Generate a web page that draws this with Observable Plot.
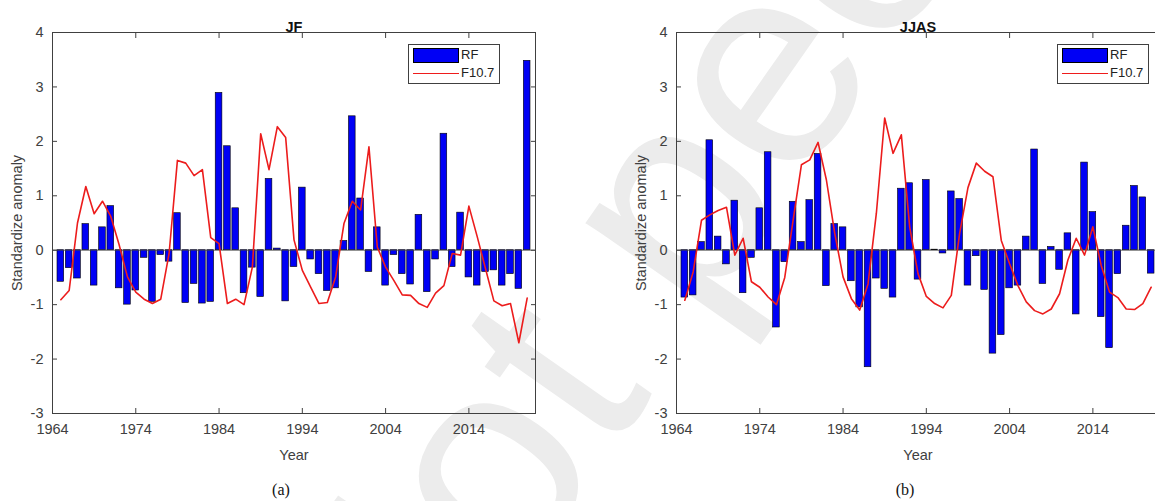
<!DOCTYPE html>
<html>
<head>
<meta charset="utf-8">
<script src="https://cdn.jsdelivr.net/npm/d3@7"></script>
<script src="https://cdn.jsdelivr.net/npm/@observablehq/plot@0.6"></script>
<style>
  html, body { margin: 0; padding: 0; background: #fff; overflow: hidden; }
  #root { position: relative; width: 1155px; height: 501px; overflow: hidden; font-family: "Liberation Sans", Arial, sans-serif; background: #fff; }
  #wm { position: absolute; left: 0; top: 0; }
  .panel { position: absolute; top: 0; width: 577px; height: 460px; }
  .panel svg { max-width: none !important; }
  .legend { position: absolute; top: 44px; width: 90px; height: 38px; background: #fff; border: 1px solid #404040; font-size: 13px; color: #222; }
  .legend .sw { position: absolute; left: 4px; top: 3px; width: 44px; height: 13px; background: #0000f5; border: 1px solid #000; }
  .legend .ln { position: absolute; left: 4px; top: 28px; width: 46px; height: 0; border-top: 1.6px solid #ee1c1c; }
  .legend .t1 { position: absolute; left: 52px; top: 2px; }
  .legend .t2 { position: absolute; left: 52px; top: 20px; }
  .cap { position: absolute; top: 481px; font-family: "Liberation Serif", "Times New Roman", serif; font-size: 16px; color: #111; transform: translateX(-50%); }
</style>
</head>
<body>
<div id="root">
  <svg id="wm" width="1155" height="501">
    <text transform="translate(395,762) rotate(-55)" font-family="Liberation Sans, Arial, sans-serif" font-size="290" fill="#ececec">Not peer reviewed</text>
  </svg>
</div>
<script>
// ---- data ----
const years = [1965,1966,1967,1968,1969,1970,1971,1972,1973,1974,
               1975,1976,1977,1978,1979,1980,1981,1982,1983,1984,
               1985,1986,1987,1988,1989,1990,1991,1992,1993,1994,
               1995,1996,1997,1998,1999,2000,2001,2002,2003,2004,
               2005,2006,2007,2008,2009,2010,2011,2012,2013,2014,
               2015,2016,2017,2018,2019,2020,2021];

const jfRF = [-0.58,-0.33,-0.52,0.48,-0.65,0.42,0.81,-0.70,-1.00,-0.74,
              -0.14,-0.95,-0.09,-0.21,0.68,-0.97,-0.62,-0.98,-0.95,2.89,
              1.91,0.77,-0.79,-0.32,-0.86,1.31,0.03,-0.94,-0.31,1.15,
              -0.17,-0.44,-0.75,-0.70,0.17,2.46,0.95,-0.40,0.42,-0.65,
              -0.09,-0.44,-0.63,0.65,-0.77,-0.17,2.14,-0.31,0.69,-0.50,
              -0.65,-0.40,-0.37,-0.65,-0.44,-0.71,3.48];

const jfF107 = [-0.91,-0.74,0.50,1.17,0.67,0.90,0.62,0.10,-0.49,-0.77,
                -0.90,-0.98,-0.90,-0.06,1.65,1.60,1.37,1.48,0.23,0.12,
                -0.98,-0.90,-1.00,-0.31,2.14,1.48,2.27,2.07,0.19,-0.37,
                -0.68,-0.98,-0.96,-0.49,0.49,0.90,0.74,1.90,0.06,-0.31,
                -0.56,-0.82,-0.83,-0.98,-1.05,-0.79,-0.65,-0.06,-0.09,0.81,
                0.25,-0.34,-0.93,-1.02,-0.98,-1.70,-0.88];

const jjasRF = [-0.87,-0.83,0.15,2.02,0.25,-0.26,0.91,-0.79,-0.14,0.77,
                1.80,-1.42,-0.22,0.89,0.15,0.92,1.77,-0.66,0.48,0.42,
                -0.57,-1.05,-2.15,-0.52,-0.71,-0.87,1.13,1.23,-0.54,1.29,
                0.01,-0.06,1.08,0.94,-0.65,-0.11,-0.73,-1.90,-1.56,-0.70,
                -0.65,0.25,1.85,-0.62,0.06,-0.36,0.31,-1.18,1.61,0.70,
                -1.23,-1.80,-0.44,0.45,1.18,0.97,-0.43];

const jjasF107 = [-0.92,-0.40,0.55,0.65,0.73,0.79,-0.09,0.22,-0.58,-0.68,
                  -0.86,-1.00,-0.50,0.55,1.57,1.66,1.98,1.29,0.31,-0.49,
                  -0.89,-1.10,-0.62,0.68,2.43,1.78,2.12,0.43,-0.43,-0.85,
                  -0.98,-1.06,-0.83,0.31,1.15,1.60,1.45,1.35,0.18,-0.25,
                  -0.65,-0.95,-1.11,-1.17,-1.08,-0.80,-0.18,0.22,-0.09,0.43,
                  -0.28,-0.77,-0.87,-1.08,-1.09,-0.98,-0.68];

const xTicks = [1964, 1974, 1984, 1994, 2004, 2014];
const yTicks = [-3, -2, -1, 0, 1, 2, 3, 4];
const xDomain = [1964, 2022];
const yDomain = [-3, 4];
const panels = [
  {title: "JF", rf: jfRF, f107: jfF107, left: 0, caption: "(a)", capX: 281, legendX: 408},
  {title: "JJAS", rf: jjasRF, f107: jjasF107, left: 624, caption: "(b)", capX: 905, legendX: 1057}
];
const seriesNames = ["RF", "F10.7"];

const AXIS = "#404040";

function makePanel(p) {
  const bars = years.map((y, i) => ({year: y, value: p.rf[i]}));
  const line = years.map((y, i) => ({year: y, value: p.f107[i]}));
  return Plot.plot({
    width: 577,
    height: 460,
    marginLeft: 52,
    marginRight: 42,
    marginTop: 32,
    marginBottom: 47,
    style: {fontFamily: "Liberation Sans, Arial, sans-serif", fontSize: "14px", color: AXIS, background: "transparent", overflow: "visible", maxWidth: "none"},
    x: {domain: xDomain},
    y: {domain: yDomain},
    marks: [
      Plot.rectY(bars, {x1: d => d.year - 0.4, x2: d => d.year + 0.4, y1: 0, y2: "value",
                        fill: "#0000f5", stroke: "#000", strokeWidth: 0.6}),
      Plot.ruleY([0], {stroke: AXIS, strokeWidth: 0.8}),
      Plot.line(line, {x: "year", y: "value", stroke: "#ec1c1c", strokeWidth: 1.6}),
      Plot.frame({stroke: AXIS, strokeWidth: 1}),
      Plot.axisX(xTicks, {anchor: "bottom", tickSize: -5, tickPadding: 15, tickFormat: d => String(d),
                          label: "Year", labelAnchor: "center", labelArrow: "none", labelOffset: 46, fontSize: 14.5}),
      Plot.axisX(xTicks, {anchor: "top", tickSize: -5, tickFormat: () => "", label: null}),
      Plot.axisY(yTicks, {anchor: "left", tickSize: -5, tickPadding: 14, tickFormat: d => String(d),
                          label: "Standardize anomaly", labelAnchor: "center", labelArrow: "none", labelOffset: 41, fontSize: 14.5}),
      Plot.axisY(yTicks, {anchor: "right", tickSize: -5, tickFormat: () => "", label: null}),
      Plot.text([p.title], {frameAnchor: "top", dy: -11, fontWeight: "bold", fontSize: 14.5, fill: "#111"})
    ]
  });
}

const root = document.getElementById("root");
for (const p of panels) {
  const wrap = document.createElement("div");
  wrap.className = "panel";
  wrap.style.left = p.left + "px";
  wrap.appendChild(makePanel(p));
  root.appendChild(wrap);

  const lg = document.createElement("div");
  lg.className = "legend";
  lg.style.left = p.legendX + "px";
  lg.innerHTML = `<div class="sw"></div><span class="t1">${seriesNames[0]}</span><div class="ln"></div><span class="t2">${seriesNames[1]}</span>`;
  root.appendChild(lg);

  const cap = document.createElement("div");
  cap.className = "cap";
  cap.style.left = p.capX + "px";
  cap.textContent = p.caption;
  root.appendChild(cap);
}
</script>
</body>
</html>
